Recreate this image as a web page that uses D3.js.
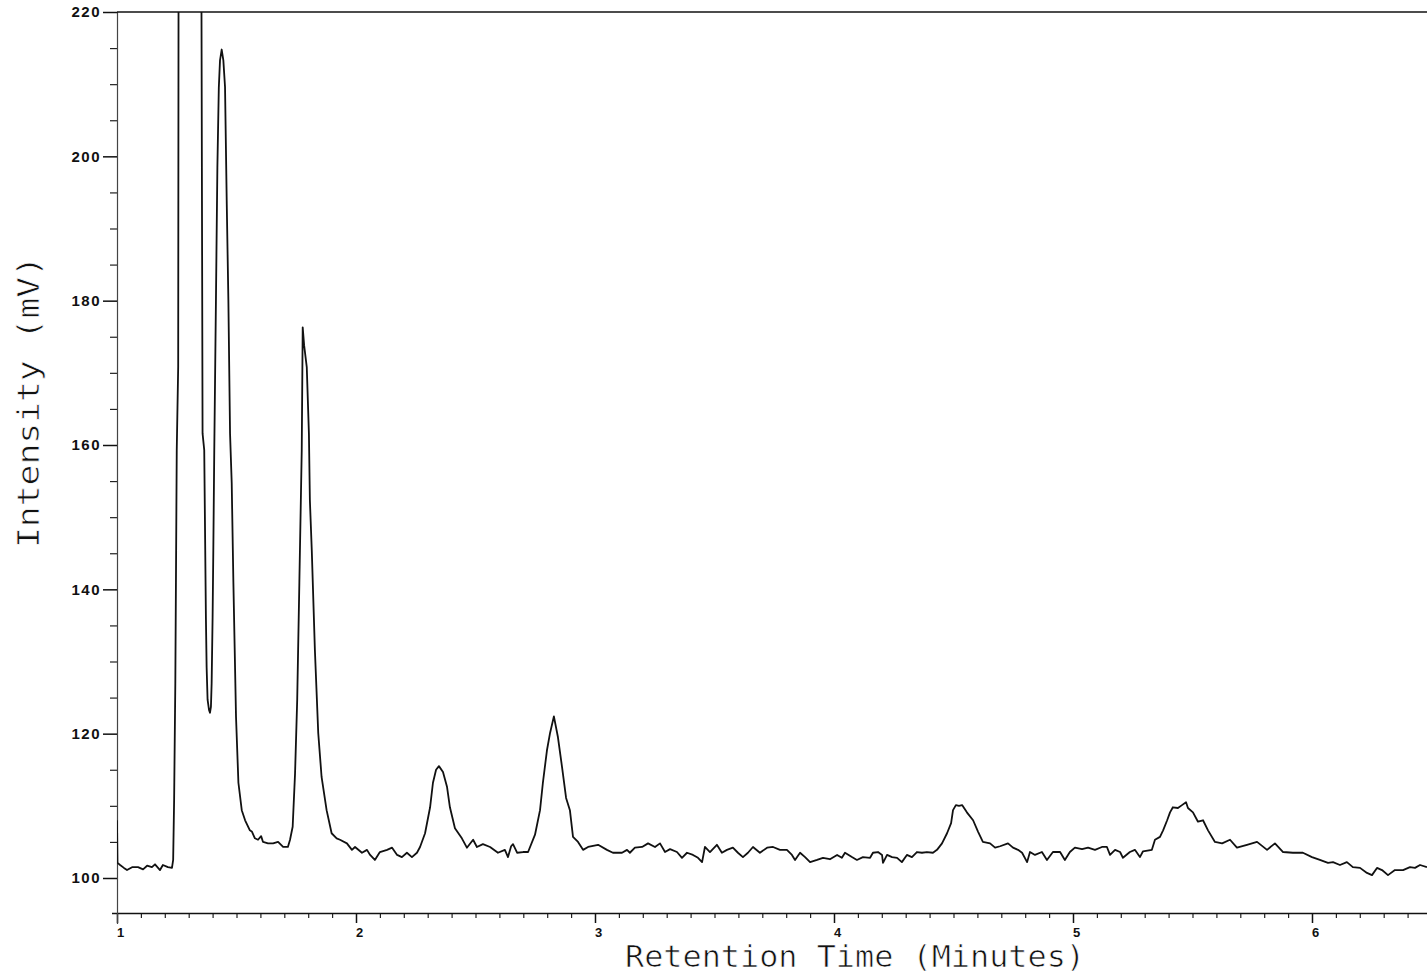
<html>

<head>
    <title>Chromatogram</title>
    <script src="https://d3js.org/d3.v7.min.js"></script>

    <style>
        body {
            margin: 0;
            background: #fff;
        }
        svg {
            display: block;
            font-family: "DejaVu Sans Mono", monospace;
        }
        .trace {
            fill: none;
            stroke: #111;
            stroke-width: 1.8px;
            stroke-linejoin: round;
        }
        .axis path, .axis line {
            stroke: #111;
            stroke-width: 1.5px;
        }
        .y.axis path {
            stroke: #444;
            stroke-width: 1.2px;
        }
        .minor line {
            stroke: #222;
            stroke-width: 1.2px;
        }
        .minor path {
            display: none;
        }
        .axis text {
            font-size: 15px;
            font-weight: bold;
            fill: #111;
        }
        .frame {
            stroke: #111;
            stroke-width: 1.5px;
        }
        .axis-title {
            font-size: 31px;
            fill: #111;
            stroke: #fff;
            stroke-width: 0.7px;
        }
    </style>
</head>

<body>

    <div id="chart"></div>

    <script>
        /* Data: retention time (minutes), intensity (mV) */
        var chromatogram = [
            [1.000, 108.0], [1.002, 102.1], [1.013, 101.8], [1.029, 101.4], [1.042, 101.1], [1.063, 101.5],
            [1.088, 101.5], [1.109, 101.2], [1.126, 101.7], [1.146, 101.5], [1.159, 101.9], [1.180, 101.1],
            [1.192, 101.8], [1.213, 101.5], [1.230, 101.4],
            [1.235, 102.5], [1.239, 110.8], [1.244, 127.0], [1.250, 159.3], [1.256, 170.8], [1.258, 240.0],
            [1.300, 330.0], [1.352, 240.0], [1.358, 161.6], [1.365, 159.3], [1.372, 136.1], [1.375, 129.2],
            [1.379, 124.7], [1.385, 123.3], [1.389, 122.9], [1.393, 123.7], [1.396, 127.0], [1.400, 136.1],
            [1.403, 145.4], [1.407, 159.3], [1.414, 180.1], [1.420, 198.5], [1.426, 209.5], [1.431, 213.3],
            [1.438, 214.8], [1.445, 213.3], [1.452, 209.6], [1.459, 193.9], [1.466, 180.1], [1.473, 161.6],
            [1.480, 154.7], [1.487, 140.9], [1.498, 122.3], [1.508, 113.2], [1.522, 109.4], [1.536, 108.0],
            [1.556, 106.6], [1.565, 106.4], [1.577, 105.5], [1.590, 105.3], [1.603, 105.8], [1.611, 105.0],
            [1.632, 104.8], [1.653, 104.8], [1.674, 105.0], [1.695, 104.3], [1.715, 104.3],
            [1.724, 105.3], [1.735, 107.1], [1.745, 114.5], [1.754, 124.7], [1.763, 140.9], [1.773, 159.3],
            [1.777, 176.3], [1.783, 173.8], [1.794, 170.8], [1.803, 161.6], [1.807, 152.4], [1.815, 145.4],
            [1.828, 131.6], [1.842, 120.1], [1.856, 114.0], [1.877, 109.4], [1.898, 106.2], [1.919, 105.5],
            [1.933, 105.3], [1.962, 104.8], [1.983, 103.9], [1.996, 104.3],
            [2.025, 103.5], [2.046, 103.9], [2.059, 103.2], [2.079, 102.5], [2.100, 103.6], [2.130, 103.9],
            [2.151, 104.2], [2.172, 103.2], [2.192, 102.9], [2.213, 103.5], [2.234, 102.9], [2.255, 103.5],
            [2.268, 104.3], [2.289, 106.2], [2.310, 109.8], [2.322, 113.2], [2.335, 115.0], [2.347, 115.5],
            [2.364, 114.7], [2.381, 112.6], [2.393, 109.8], [2.414, 106.9], [2.443, 105.5], [2.464, 104.2],
            [2.490, 105.3], [2.506, 104.3], [2.531, 104.7], [2.561, 104.3], [2.594, 103.5], [2.623, 103.9],
            [2.636, 102.9], [2.649, 104.4], [2.657, 104.7], [2.674, 103.5], [2.699, 103.6], [2.720, 103.6],
            [2.749, 106.0], [2.770, 109.4], [2.782, 113.2], [2.799, 117.7], [2.812, 120.1], [2.828, 122.4],
            [2.845, 119.5], [2.862, 115.4], [2.879, 111.1], [2.895, 109.4], [2.908, 105.7], [2.929, 105.0],
            [2.950, 103.9], [2.971, 104.3],
            [3.013, 104.6], [3.050, 103.9], [3.075, 103.5], [3.092, 103.5], [3.113, 103.5], [3.134, 103.9],
            [3.146, 103.5], [3.167, 104.2], [3.197, 104.3], [3.222, 104.8], [3.251, 104.3], [3.272, 104.8],
            [3.293, 103.6], [3.314, 104.0], [3.343, 103.6], [3.364, 102.8], [3.385, 103.5], [3.410, 103.2],
            [3.431, 102.8], [3.448, 102.2], [3.460, 104.3], [3.481, 103.6], [3.510, 104.6], [3.531, 103.5],
            [3.552, 103.9], [3.577, 104.2], [3.598, 103.5], [3.619, 102.9], [3.640, 103.5], [3.661, 104.3],
            [3.690, 103.5], [3.720, 104.2], [3.745, 104.3], [3.774, 103.9], [3.803, 103.9], [3.824, 103.2],
            [3.837, 102.5], [3.858, 103.5], [3.879, 102.9], [3.900, 102.2], [3.929, 102.5], [3.954, 102.8],
            [3.983, 102.6],
            [4.013, 103.2], [4.033, 102.8], [4.046, 103.5], [4.075, 102.9], [4.096, 102.5], [4.121, 102.9],
            [4.151, 102.8], [4.163, 103.5], [4.184, 103.6], [4.201, 103.2], [4.205, 102.1], [4.222, 103.2],
            [4.243, 102.9], [4.264, 102.8], [4.284, 102.2], [4.305, 103.2], [4.326, 102.9], [4.347, 103.6],
            [4.368, 103.5], [4.389, 103.6], [4.414, 103.5], [4.431, 103.9], [4.452, 104.8], [4.473, 106.2],
            [4.490, 107.6], [4.498, 109.4], [4.510, 110.1], [4.523, 110.0], [4.536, 110.1], [4.556, 109.1],
            [4.582, 108.0], [4.603, 106.4], [4.623, 105.0], [4.653, 104.8], [4.674, 104.2], [4.695, 104.4],
            [4.728, 104.8], [4.749, 104.2], [4.770, 103.9], [4.787, 103.5], [4.808, 102.2], [4.820, 103.6],
            [4.841, 103.2], [4.870, 103.6], [4.891, 102.5], [4.916, 103.6], [4.946, 103.6], [4.966, 102.5],
            [4.987, 103.6],
            [5.008, 104.2], [5.038, 104.0], [5.063, 104.2], [5.092, 103.9], [5.121, 104.3], [5.142, 104.3],
            [5.155, 103.2], [5.176, 103.9], [5.197, 103.6], [5.209, 102.8], [5.238, 103.6], [5.259, 103.9],
            [5.280, 102.9], [5.293, 103.7], [5.330, 103.9], [5.343, 105.3], [5.364, 105.7], [5.377, 106.6],
            [5.394, 108.0], [5.406, 109.1], [5.418, 109.8], [5.439, 109.7], [5.456, 110.1], [5.473, 110.5],
            [5.481, 109.7], [5.502, 109.1], [5.523, 107.8], [5.544, 108.0], [5.565, 106.6], [5.594, 105.0],
            [5.624, 104.8], [5.657, 105.3], [5.686, 104.2], [5.728, 104.6], [5.770, 105.0], [5.812, 103.9],
            [5.845, 104.8], [5.879, 103.6], [5.920, 103.5], [5.962, 103.5],
            [6.000, 102.9], [6.033, 102.5], [6.067, 102.1], [6.088, 102.2], [6.117, 101.8], [6.146, 102.2],
            [6.171, 101.5], [6.201, 101.4], [6.230, 100.7], [6.251, 100.4], [6.272, 101.4], [6.293, 101.1],
            [6.318, 100.4], [6.347, 101.1], [6.381, 101.1], [6.410, 101.5], [6.431, 101.4], [6.452, 101.8],
            [6.481, 101.5]
        ];

        var xTicks = [1, 2, 3, 4, 5, 6];
        var yTicks = [100, 120, 140, 160, 180, 200, 220];
        var xTitle = "Retention Time (Minutes)";
        var yTitle = "Intensity (mV)";

        var width = 1427;
        var height = 975;

        /* Scales */
        var xScale = d3.scaleLinear()
            .domain([1, 6.4812])
            .range([117, 1427]);
        var yScale = d3.scaleLinear()
            .domain([95.15, 220])
            .range([913, 12]);

        var svg = d3.select("#chart").append("svg")
            .attr("width", width)
            .attr("height", height);

        svg.append("defs").append("clipPath")
            .attr("id", "plot-clip")
            .append("rect")
            .attr("x", 117)
            .attr("y", 12)
            .attr("width", 1427 - 117)
            .attr("height", 913 - 12);

        /* Minor ticks */
        var xMinor = d3.range(10, 65).map(d => d / 10).filter(d => xTicks.indexOf(d) < 0);
        var yMinor = d3.range(100, 221, 5).filter(d => yTicks.indexOf(d) < 0);

        svg.append("g")
            .attr("class", "minor")
            .attr("transform", "translate(0,913)")
            .call(d3.axisBottom(xScale).tickValues(xMinor).tickSize(5).tickFormat(""));
        svg.append("g")
            .attr("class", "minor")
            .attr("transform", "translate(117,0)")
            .call(d3.axisLeft(yScale).tickValues(yMinor).tickSize(7).tickFormat(""));

        /* Axes */
        var xAxis = svg.append("g")
            .attr("class", "x axis")
            .attr("transform", "translate(0,913)")
            .call(d3.axisBottom(xScale).tickValues(xTicks).tickSize(10).tickSizeOuter(0).tickPadding(5)
                .tickFormat(d3.format("d")));
        xAxis.select(".domain").attr("d", "M112,0.5H1427");
        xAxis.selectAll("text").attr("dx", 3).style("font-size", "13px");

        var yAxis = svg.append("g")
            .attr("class", "y axis")
            .attr("transform", "translate(117,0)")
            .call(d3.axisLeft(yScale).tickValues(yTicks).tickSize(14).tickSizeOuter(0).tickPadding(2));
        yAxis.select(".domain").attr("d", "M0.5,12V924");
        yAxis.selectAll("text").style("letter-spacing", "1.5px");

        /* top frame line */
        svg.append("line")
            .attr("class", "frame")
            .attr("x1", 117).attr("x2", 1427)
            .attr("y1", 12).attr("y2", 12);

        /* Trace */
        var line = d3.line()
            .x(d => xScale(d[0]))
            .y(d => yScale(d[1]));

        svg.append("path")
            .datum(chromatogram)
            .attr("class", "trace")
            .attr("clip-path", "url(#plot-clip)")
            .attr("d", line);

        /* Titles */
        svg.append("text")
            .attr("class", "axis-title")
            .attr("x", 855)
            .attr("y", 967)
            .attr("text-anchor", "middle")
            .attr("textLength", 460)
            .attr("lengthAdjust", "spacingAndGlyphs")
            .text(xTitle);

        svg.append("text")
            .attr("class", "axis-title")
            .attr("transform", "translate(39,402) rotate(-90)")
            .attr("text-anchor", "middle")
            .attr("textLength", 292)
            .attr("lengthAdjust", "spacingAndGlyphs")
            .text(yTitle);
    </script>

</body>

</html>
